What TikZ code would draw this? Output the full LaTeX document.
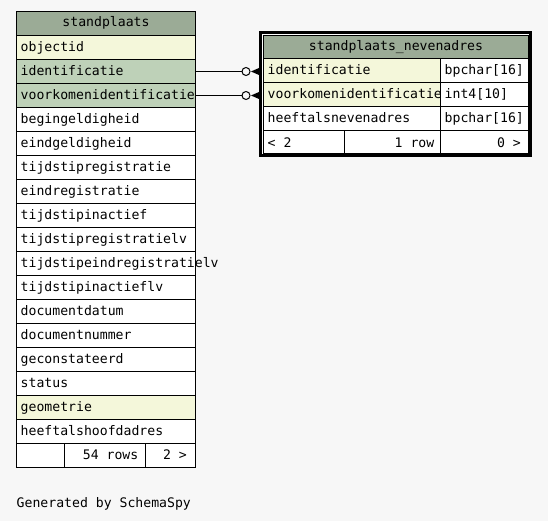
\documentclass[tikz,border=0pt]{standalone}
\usepackage{fontspec}
\setmonofont{DejaVu Sans Mono}
\definecolor{pagebg}{HTML}{F7F7F7}
\definecolor{hdrfill}{HTML}{9BAB96}
\definecolor{keyfill}{HTML}{BED1B8}
\definecolor{idxfill}{HTML}{F4F7DA}
\begin{document}
\begin{tikzpicture}[x=1pt,y=-1pt,
  cell/.style={draw=black, line width=1pt, fill=white, minimum width=#1,
    minimum height=24pt, inner sep=0pt, outer sep=0pt, anchor=north west},
  txt/.style={font=\ttfamily\fontsize{13.15}{15}\selectfont, inner sep=0pt, anchor=base west},
  rtxt/.style={txt, anchor=base east},
  ctxt/.style={txt, anchor=base},
  link/.style={draw=black, line width=1pt}]

% canvas
\fill[pagebg] (0,0) rectangle (548,521);
\useasboundingbox (0,0) rectangle (548,521);

% ---- table: standplaats ----
\node[cell=179pt, fill=hdrfill] (lhead) at (16.5,11.5) {};
\node[ctxt] (lheadtxt) at (106,27) {standplaats};
\foreach \colname/\colfill [count=\i from 0] in {
    objectid/idxfill, identificatie/keyfill, voorkomenidentificatie/keyfill,
    begingeldigheid/white, eindgeldigheid/white, tijdstipregistratie/white,
    eindregistratie/white, tijdstipinactief/white, tijdstipregistratielv/white,
    tijdstipeindregistratielv/white, tijdstipinactieflv/white,
    documentdatum/white, documentnummer/white, geconstateerd/white,
    status/white, geometrie/idxfill, heeftalshoofdadres/white} {
  \node[cell=179pt, fill=\colfill] (l\i) at (16.5,{35.5+24*\i}) {};
  \node[txt] (lt\i) at (20.5,{51.5+24*\i}) {\colname};
}
\node[cell=48pt] (lfoot1) at (16.5,443.5) {};
\node[cell=81pt] (lfoot2) at (64.5,443.5) {};
\node[cell=50pt] (lfoot3) at (145.5,443.5) {};
\node[rtxt] (lrows) at (138.5,459) {54 rows};
\node[rtxt] (lnext) at (187,459) {2 >};

% ---- table: standplaats_nevenadres ----
\node[draw=black, line width=3pt, fill=white, minimum width=270pt,
  minimum height=123.5pt, inner sep=0pt, outer sep=0pt, anchor=north west]
  (rframe) at (260.5,32.5) {};
\node[cell=265pt, minimum height=23.5pt, fill=hdrfill] (rhead) at (263.5,35.5) {};
\node[ctxt] (rheadtxt) at (396,50.5) {standplaats\_nevenadres};
\foreach \colname/\coltype/\colfill [count=\i from 1] in {
    identificatie/bpchar[16]/idxfill,
    voorkomenidentificatie/int4[10]/idxfill,
    heeftalsnevenadres/bpchar[16]/white} {
  \node[cell=177pt, fill=\colfill] (r\i) at (263.5,{35+24*\i}) {};
  \node[cell=88pt] (rtype\i) at (440.5,{35+24*\i}) {};
}
\foreach \colname/\coltype [count=\i from 1] in {
    identificatie/bpchar[16],
    voorkomenidentificatie/int4[10],
    heeftalsnevenadres/bpchar[16]} {
  \node[txt] (rt\i) at (267.5,{51+24*\i}) {\colname};
  \node[txt] (rty\i) at (444.5,{51+24*\i}) {\coltype};
}
\node[cell=81pt, minimum height=23pt] (rfoot1) at (263.5,131) {};
\node[cell=96pt, minimum height=23pt] (rfoot2) at (344.5,131) {};
\node[cell=88pt, minimum height=23pt] (rfoot3) at (440.5,131) {};
\node[txt] (rprev) at (267.5,148) {< 2};
\node[rtxt] (rrows) at (434.5,148) {1 row};
\node[rtxt] (rnext) at (521,148) {0 >};

% ---- foreign keys: zero-or-many ends at standplaats_nevenadres ----
\foreach \src in {l1,l2} {
  \coordinate (k\src) at (rframe.west |- \src.east);
  \draw[link] (\src.east) -- ([xshift=-18.5pt]k\src);
  \draw[link] ([xshift=-14.5pt]k\src) circle[radius=4pt];
  \fill[black] ([xshift=-9.5pt]k\src) -- ([xshift=-1.5pt,yshift=3.5pt]k\src)
    -- ([xshift=-1.5pt,yshift=-3.5pt]k\src) -- cycle;
}

% ---- caption ----
\node[txt] (credit) at (16.5,507) {Generated by SchemaSpy};
\end{tikzpicture}
\end{document}
